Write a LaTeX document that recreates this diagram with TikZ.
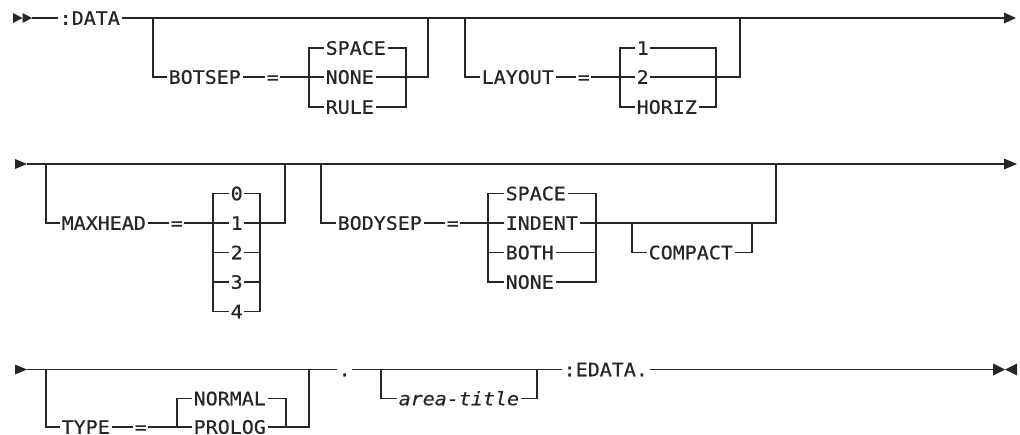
\documentclass[tikz,border=0pt]{standalone}
\usepackage{fontspec}
\newfontfamily\rrfont[FakeStretch=1.08,FakeBold=0.5,ItalicFont={DejaVu Sans Mono Oblique}]{DejaVu Sans Mono}
\definecolor{lc}{RGB}{38,38,38}
\tikzset{
  ln/.style={draw=lc, line width=1.2pt},
  lbl/.style={font=\rrfont\fontsize{18.5pt}{21pt}\selectfont, text=lc, inner xsep=1.5pt, inner ysep=0pt, text height=13.5pt, text depth=0pt, anchor=west},
}
\begin{document}
\begin{tikzpicture}[x=1pt,y=-1pt]
\useasboundingbox (0,0) rectangle (1020,434);

% ================= ROW 1 =================
\coordinate (r1m) at (22.5,18);
\coordinate (r1a) at (32,18);
\fill[lc] (13,13) -- (r1m) -- (13,23) -- cycle;
\fill[lc] (22.5,13) -- (r1a) -- (22.5,23) -- cycle;
\node[lbl] (data) at (58,18) {:DATA};
\coordinate (r1e) at (1004,18);
\fill[lc] (1004,12.5) -- (1016,18) -- (1004,23.5) -- cycle;
\draw[ln] (r1a) -- (data.west);
\draw[ln] (data.east) -- (r1e);

% BOTSEP
\coordinate (bsL) at (153,18);
\coordinate (bsLb) at (153,77);
\node[lbl] (botsep) at (167,77) {BOTSEP};
\node[lbl] (bseq) at (265,77) {=};
\coordinate (bsIt) at (309,48);
\coordinate (bsIm) at (309,77);
\coordinate (bsIb) at (309,107);
\node[lbl] (bsSpace) at (324,48) {SPACE};
\node[lbl] (bsNone) at (324,77) {NONE};
\node[lbl] (bsRule) at (324,107) {RULE};
\coordinate (bsJt) at (406,48);
\coordinate (bsJm) at (406,77);
\coordinate (bsJb) at (406,107);
\coordinate (bsRb) at (428,77);
\coordinate (bsR) at (428,18);
\draw[ln] (bsL) -- (bsLb) -- (botsep.west);
\draw[ln] (botsep.east) -- (bseq.west);
\draw[ln] (bseq.east) -- (bsIm) -- (bsNone.west);
\draw[ln] (bsSpace.west) -- (bsIt) -- (bsIb) -- (bsRule.west);
\draw[ln] (bsSpace.east) -- (bsJt) -- (bsJb) -- (bsRule.east);
\draw[ln] (bsNone.east) -- (bsJm) -- (bsRb) -- (bsR);

% LAYOUT
\coordinate (lyL) at (465,18);
\coordinate (lyLb) at (465,77);
\node[lbl] (layout) at (480,77) {LAYOUT};
\node[lbl] (lyeq) at (576,77) {=};
\coordinate (lyIt) at (620,48);
\coordinate (lyIm) at (620,77);
\coordinate (lyIb) at (620,107);
\node[lbl] (lyOne) at (635,48) {1};
\node[lbl] (lyTwo) at (635,77) {2};
\node[lbl] (lyHoriz) at (635,107) {HORIZ};
\coordinate (lyJt) at (716,48);
\coordinate (lyJm) at (716,77);
\coordinate (lyJb) at (716,107);
\coordinate (lyRb) at (740,77);
\coordinate (lyR) at (740,18);
\draw[ln] (lyL) -- (lyLb) -- (layout.west);
\draw[ln] (layout.east) -- (lyeq.west);
\draw[ln] (lyeq.east) -- (lyIm) -- (lyTwo.west);
\draw[ln] (lyOne.west) -- (lyIt) -- (lyIb) -- (lyHoriz.west);
\draw[ln] (lyOne.east) -- (lyJt) -- (lyJb) -- (lyHoriz.east);
\draw[ln] (lyTwo.east) -- (lyJm) -- (lyRb) -- (lyR);

% ================= ROW 2 =================
\coordinate (r2a) at (27,164);
\fill[lc] (15,159) -- (r2a) -- (15,169) -- cycle;
\coordinate (r2e) at (1004,164);
\fill[lc] (1004,158.5) -- (1017,164) -- (1004,169.5) -- cycle;
\draw[ln] (r2a) -- (r2e);

% MAXHEAD
\coordinate (mhL) at (46,164);
\coordinate (mhLb) at (46,223);
\node[lbl] (maxhead) at (60,223) {MAXHEAD};
\node[lbl] (mheq) at (169,223) {=};
\coordinate (mhIt) at (213,193.5);
\coordinate (mhIm) at (213,223);
\coordinate (mhI2) at (213,252.5);
\coordinate (mhI3) at (213,282);
\coordinate (mhIb) at (213,311.5);
\node[lbl] (mh0) at (229,193.5) {0};
\node[lbl] (mh1) at (229,223) {1};
\node[lbl] (mh2) at (229,252.5) {2};
\node[lbl] (mh3) at (229,282) {3};
\node[lbl] (mh4) at (229,311.5) {4};
\coordinate (mhJt) at (260,193.5);
\coordinate (mhJm) at (260,223);
\coordinate (mhJ2) at (260,252.5);
\coordinate (mhJ3) at (260,282);
\coordinate (mhJb) at (260,311.5);
\coordinate (mhRb) at (285,223);
\coordinate (mhR) at (285,164);
\draw[ln] (mhL) -- (mhLb) -- (maxhead.west);
\draw[ln] (maxhead.east) -- (mheq.west);
\draw[ln] (mheq.east) -- (mhIm) -- (mh1.west);
\draw[ln] (mh0.west) -- (mhIt) -- (mhIb) -- (mh4.west);
\draw[ln] (mh0.east) -- (mhJt) -- (mhJb) -- (mh4.east);
\draw[ln] (mhI2) -- (mh2.west);
\draw[ln] (mh2.east) -- (mhJ2);
\draw[ln] (mhI3) -- (mh3.west);
\draw[ln] (mh3.east) -- (mhJ3);
\draw[ln] (mh1.east) -- (mhJm) -- (mhRb) -- (mhR);

% BODYSEP
\coordinate (bdL) at (321,164);
\coordinate (bdLb) at (321,223);
\node[lbl] (bodysep) at (336,223) {BODYSEP};
\node[lbl] (bdeq) at (445,223) {=};
\coordinate (bdIt) at (488,193.5);
\coordinate (bdIm) at (488,223);
\coordinate (bdI2) at (488,252.5);
\coordinate (bdIb) at (488,282);
\node[lbl] (bdSpace) at (504,193.5) {SPACE};
\node[lbl] (bdIndent) at (504,223) {INDENT};
\node[lbl] (bdBoth) at (504,252.5) {BOTH};
\node[lbl] (bdNone) at (504,282) {NONE};
\coordinate (bdJt) at (596,193.5);
\coordinate (bdJm) at (596,223);
\coordinate (bdJ2) at (596,252.5);
\coordinate (bdJb) at (596,282);
\coordinate (cpL) at (632,223);
\coordinate (cpLb) at (632,252.5);
\node[lbl] (compact) at (647,252.5) {COMPACT};
\coordinate (cpRb) at (752,252.5);
\coordinate (cpR) at (752,223);
\coordinate (bdRb) at (776,223);
\coordinate (bdR) at (776,164);
\draw[ln] (bdL) -- (bdLb) -- (bodysep.west);
\draw[ln] (bodysep.east) -- (bdeq.west);
\draw[ln] (bdeq.east) -- (bdIm) -- (bdIndent.west);
\draw[ln] (bdSpace.west) -- (bdIt) -- (bdIb) -- (bdNone.west);
\draw[ln] (bdSpace.east) -- (bdJt) -- (bdJb) -- (bdNone.east);
\draw[ln] (bdI2) -- (bdBoth.west);
\draw[ln] (bdBoth.east) -- (bdJ2);
\draw[ln] (bdIndent.east) -- (bdJm) -- (bdRb) -- (bdR);
\draw[ln] (cpL) -- (cpLb) -- (compact.west);
\draw[ln] (compact.east) -- (cpRb) -- (cpR);

% ================= ROW 3 =================
\coordinate (r3a) at (27,369.5);
\fill[lc] (15,364.5) -- (r3a) -- (15,374.5) -- cycle;
\node[lbl] (dot) at (337,369.5) {.};
\node[lbl] (edata) at (562,369.5) {:EDATA.};
\coordinate (r3e) at (1005,369.5);
\coordinate (r3t) at (993,369.5);
\fill[lc] (993,363.5) -- (r3e) -- (993,375.5) -- cycle;
\fill[lc] (1017,363.5) -- (r3e) -- (1017,375.5) -- cycle;
\draw[ln] (r3a) -- (dot.west);
\draw[ln] (dot.east) -- (edata.west);
\draw[ln] (edata.east) -- (r3t);

% TYPE
\coordinate (tyL) at (46,369.5);
\coordinate (tyLb) at (46,427);
\node[lbl] (type) at (60,427) {TYPE};
\node[lbl] (tyeq) at (133,427) {=};
\coordinate (tyIt) at (177,398.5);
\coordinate (tyIb) at (177,427);
\node[lbl] (tyNormal) at (192,398.5) {NORMAL};
\node[lbl] (tyProlog) at (192,427) {PROLOG};
\coordinate (tyJt) at (286,398.5);
\coordinate (tyJb) at (286,427);
\coordinate (tyRb) at (309,427);
\coordinate (tyR) at (309,369.5);
\draw[ln] (tyL) -- (tyLb) -- (type.west);
\draw[ln] (type.east) -- (tyeq.west);
\draw[ln] (tyeq.east) -- (tyIb) -- (tyProlog.west);
\draw[ln] (tyNormal.west) -- (tyIt) -- (tyIb);
\draw[ln] (tyNormal.east) -- (tyJt) -- (tyJb);
\draw[ln] (tyProlog.east) -- (tyJb) -- (tyRb) -- (tyR);

% area-title
\coordinate (atL) at (381,369.5);
\coordinate (atLb) at (381,398.5);
\node[lbl] (area) at (397,398.5) {\itshape area-title};
\coordinate (atRb) at (537,398.5);
\coordinate (atR) at (537,369.5);
\draw[ln] (atL) -- (atLb) -- (area.west);
\draw[ln] (area.east) -- (atRb) -- (atR);

\end{tikzpicture}
\end{document}
